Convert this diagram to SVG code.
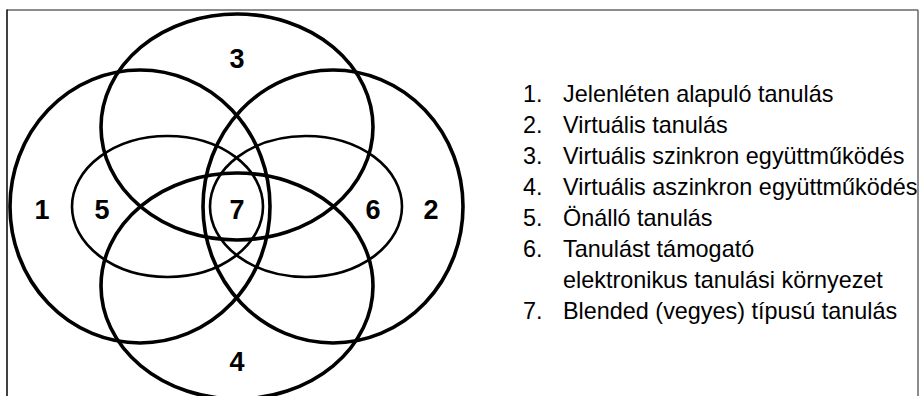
<svg xmlns="http://www.w3.org/2000/svg" width="919" height="396" viewBox="0 0 919 396">
<style>
.big{fill:none;stroke:#000;stroke-width:3.6}
.inner{fill:none;stroke:#000;stroke-width:2.6}
.num{font-family:"Liberation Sans",Arial,sans-serif;font-weight:bold;font-size:27px;text-anchor:middle;fill:#000}
.leg{font-family:"Liberation Sans",Arial,sans-serif;font-size:23.4px;fill:#000}
</style>
<rect width="919" height="396" fill="#fff"/>
<g id="frame">
<line x1="7" y1="10" x2="918" y2="10" stroke="#666" stroke-width="1.5"/>
<line x1="918" y1="10" x2="918" y2="396" stroke="#666" stroke-width="1.5"/>
<line x1="7" y1="9.5" x2="7" y2="396" stroke="#111" stroke-width="1.6"/>
</g>
<g id="set1"><ellipse class="big" cx="140" cy="206.5" rx="130" ry="136.5"/></g>
<g id="set2"><ellipse class="big" cx="333" cy="206.5" rx="130" ry="136.5"/></g>
<g id="set3"><ellipse class="big" cx="237" cy="127" rx="136" ry="113"/></g>
<g id="set4"><ellipse class="big" cx="237" cy="286" rx="136" ry="113"/></g>
<g id="set5"><ellipse class="inner" cx="167.5" cy="206.5" rx="95.5" ry="70.5"/></g>
<g id="set6"><ellipse class="inner" cx="306" cy="206.5" rx="96" ry="70.5"/></g>
<g id="labels">
<text class="num" x="237" y="68">3</text>
<text class="num" x="42" y="219">1</text>
<text class="num" x="102" y="219">5</text>
<text class="num" x="237" y="219">7</text>
<text class="num" x="373" y="219">6</text>
<text class="num" x="431" y="219">2</text>
<text class="num" x="237" y="371">4</text>
</g>
<g id="legend" class="leg">
<text x="523" y="102">1.</text><text x="563" y="102">Jelenléten alapuló tanulás</text>
<text x="523" y="133">2.</text><text x="563" y="133">Virtuális tanulás</text>
<text x="523" y="164">3.</text><text x="563" y="164">Virtuális szinkron együttműködés</text>
<text x="523" y="195">4.</text><text x="563" y="195">Virtuális aszinkron együttműködés</text>
<text x="523" y="226">5.</text><text x="563" y="226">Önálló tanulás</text>
<text x="523" y="257">6.</text><text x="563" y="257">Tanulást támogató</text>
<text x="563" y="288">elektronikus tanulási környezet</text>
<text x="523" y="319">7.</text><text x="563" y="319">Blended (vegyes) típusú tanulás</text>
</g>
</svg>
